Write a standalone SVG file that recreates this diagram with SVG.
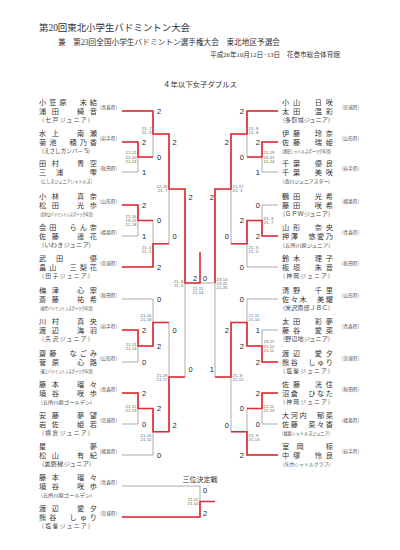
<svg xmlns="http://www.w3.org/2000/svg" width="400" height="550" viewBox="0 0 400 550">
<style>
text{dominant-baseline:central}
.hd{font-family:"Liberation Serif","Noto Sans CJK JP",serif;fill:#333}
.nm{font-family:"Noto Sans CJK JP",sans-serif;font-size:7.2px;fill:#333}
.tm{font-family:"Noto Sans CJK JP",sans-serif;font-size:5.8px;fill:#444}
.tl{font-family:"Noto Sans CJK JP",sans-serif;font-size:4.8px;fill:#444}
.pf{font-family:"Noto Sans CJK JP",sans-serif;font-size:5px;fill:#555}
.lb{font-family:"Liberation Sans",Arial,sans-serif;font-size:7.5px;fill:#222}
.sc{font-family:"Liberation Sans",Arial,sans-serif;font-size:4.3px;fill:#666;white-space:pre}
.g{stroke:#ababab;stroke-width:1;fill:none}
.r{stroke:#e4282d;stroke-width:1.6;fill:none}
</style>
<rect width="400" height="550" fill="#fff"/>
<g id="header">
<text class="hd" x="39" y="28" font-size="9.5" textLength="151" lengthAdjust="spacingAndGlyphs">第20回東北小学生バドミントン大会</text>
<text class="hd" x="58" y="42.7" font-size="7.7" textLength="222" lengthAdjust="spacingAndGlyphs">兼　第23回全国小学生バドミントン選手権大会　東北地区予選会</text>
<text class="hd" x="210" y="54.3" font-size="6.3" textLength="130" lengthAdjust="spacingAndGlyphs">平成26年10月12日−13日　花巻市総合体育館</text>
<text class="hd" x="163" y="84.3" font-size="7.4" textLength="74" lengthAdjust="spacingAndGlyphs">４年以下女子ダブルス</text>
</g>
<g id="connectors">
<path class="g" d="M122,111H153M122,142H138M122,172H138M122,205H138M122,236H138M122,267H153M122,299H153M122,330H138M122,362H138M122,393H138M122,424H138M122,455H153M122,486H200M122,517H200M138,142V172M138,157H153M138,205V236M138,220.5H153M138,330V362M138,346H153M138,393V424M138,408.5H153M153,111V157M153,134H169M153,220.5V267M153,243.75H169M153,299V346M153,322.5H169M153,408.5V455M153,431.75H169M169,134V243.75M169,189H185M169,322.5V431.75M169,377H185M185,189V377M185,283H215M200,486V517"/>
<path class="g" d="M278,111H247M278,142H262M278,172H262M278,205H262M278,236H262M278,267H247M278,299H247M278,330H262M278,362H262M278,393H262M278,424H262M278,455H247M262,142V172M262,157H247M262,205V236M262,220.5H247M262,330V362M262,346H247M262,393V424M262,408.5H247M247,111V157M247,134H231M247,220.5V267M247,243.75H231M247,299V346M247,322.5H231M247,408.5V455M247,431.75H231M231,134V243.75M231,189H215M231,322.5V431.75M231,377H215M215,189V377"/>
<path class="r" d="M122,111H153V134H169V189H185V283H200V252"/>
<path class="r" d="M122,142H138V157H153"/>
<path class="r" d="M122,205H138V220.5H153"/>
<path class="r" d="M122,267H153V243.75H169"/>
<path class="r" d="M122,330H138V346H153V322.5H169"/>
<path class="r" d="M122,393H138V408.5H153V431.75H169V377H185"/>
<path class="r" d="M122,517H200V501.5H215"/>
<path class="r" d="M278,111H247V134H231V189H215V283"/>
<path class="r" d="M278,142H262V157H247"/>
<path class="r" d="M278,236H262V220.5H247V243.75H231"/>
<path class="r" d="M278,362H262V346H247V322.5H231V377H215"/>
<path class="r" d="M278,393H262V408.5H247"/>
<path class="r" d="M278,455H247V431.75H231"/>
</g>
<g id="labels" class="lb">
<text x="142" y="142">2</text><text x="142" y="172">1</text><text x="142" y="205">2</text><text x="142" y="236">1</text><text x="142" y="330">2</text><text x="142" y="362">0</text><text x="142" y="393">2</text><text x="142" y="424">0</text>
<text x="157" y="111">2</text><text x="157" y="157">0</text><text x="157" y="220.5">0</text><text x="157" y="267">2</text><text x="157" y="299">0</text><text x="157" y="346">2</text><text x="157" y="408.5">2</text><text x="157" y="455">0</text>
<text x="172.5" y="142">2</text><text x="172.5" y="236">0</text><text x="172.5" y="330">0</text><text x="172.5" y="425">2</text>
<text x="188.5" y="197">2</text><text x="188.5" y="369">0</text>
<text x="193" y="278">2</text><text x="203" y="278">0</text>
<text x="203" y="490">0</text><text x="203" y="513">2</text>
<g text-anchor="end">
<text x="260" y="142">2</text><text x="260" y="172">1</text><text x="260" y="205">0</text><text x="260" y="236">2</text><text x="260" y="330">1</text><text x="260" y="362">2</text><text x="260" y="393">2</text><text x="260" y="424">0</text>
<text x="244" y="111">2</text><text x="244" y="157">0</text><text x="244" y="220.5">2</text><text x="244" y="267">0</text><text x="244" y="299">0</text><text x="244" y="346">2</text><text x="244" y="408.5">0</text><text x="244" y="455">2</text>
<text x="229" y="142">2</text><text x="229" y="236">0</text><text x="229" y="330">2</text><text x="229" y="425">0</text>
<text x="214" y="197">2</text><text x="214" y="369">1</text>
</g>
</g>
<g id="scores" class="sc">
<g text-anchor="end">
<text x="136.5" y="152.7">17-21</text><text x="136.5" y="157">22-20</text><text x="136.5" y="161.3">21-13</text>
<text x="151.5" y="128">21- 7</text><text x="151.5" y="132.3">21- 9</text>
<text x="136.5" y="216.2">21-16</text><text x="136.5" y="220.5">19-21</text><text x="136.5" y="224.8">21-18</text>
<text x="151.5" y="247">21- 4</text><text x="151.5" y="251.3">21- 5</text>
<text x="167.5" y="186.5">22-20</text><text x="167.5" y="190.8">21- 7</text>
<text x="183.5" y="281">21- 8</text><text x="183.5" y="285.3">21- 6</text>
<text x="136.5" y="344">21-11</text><text x="136.5" y="348.3">21-13</text>
<text x="151.5" y="315">21-16</text><text x="151.5" y="319.3">21-19</text>
<text x="136.5" y="406.5">21-15</text><text x="136.5" y="410.8">21-13</text>
<text x="151.5" y="435">21-16</text><text x="151.5" y="439.3">21-12</text>
<text x="167.5" y="375.5">21-19</text><text x="167.5" y="379.8">21-17</text>
<text x="198.5" y="499.5">21-12</text><text x="198.5" y="503.8">21-14</text>
</g>
<text x="198" y="288" text-anchor="middle">21-15</text><text x="198" y="292.3" text-anchor="middle">21-13</text>
<text x="263.5" y="152.7">21-19</text><text x="263.5" y="157">16-21</text><text x="263.5" y="161.3">21-14</text>
<text x="248.5" y="128">21- 8</text><text x="248.5" y="132.3">21- 8</text>
<text x="263.5" y="218.3">21- 3</text><text x="263.5" y="222.6">21- 7</text>
<text x="248.5" y="247">21- 6</text><text x="248.5" y="251.3">21- 5</text>
<text x="232.5" y="186.5">21-17</text><text x="232.5" y="190.8">21- 3</text>
<text x="216.5" y="279">23-14</text><text x="216.5" y="283.3">23-25</text><text x="216.5" y="287.6">21-20</text>
<text x="263.5" y="341.7">19-21</text><text x="263.5" y="346">21-12</text><text x="263.5" y="350.3">21-11</text>
<text x="248.5" y="315">21-11</text><text x="248.5" y="319.3">21-10</text>
<text x="263.5" y="406.3">21-11</text><text x="263.5" y="410.6">21-13</text>
<text x="248.5" y="435">21- 9</text><text x="248.5" y="439.3">21-13</text>
<text x="232.5" y="375.5">21- 8</text><text x="232.5" y="379.8">21-12</text>
</g>
<text class="hd" x="200" y="480" font-size="7" text-anchor="middle">三位決定戦</text>
<g id="L1"><text class="nm" x="39" y="102" textLength="58" lengthAdjust="spacing">小笠原　末結</text><text class="nm" x="39" y="111" textLength="58" lengthAdjust="spacing">浦田　綺音</text><text class="tm" x="42" y="119.8" textLength="48" lengthAdjust="spacing">(七戸ジュニア)</text><text class="pf" x="100" y="106.5" textLength="17" lengthAdjust="spacingAndGlyphs">(青森県)</text></g>
<g id="L2"><text class="nm" x="39" y="133" textLength="58" lengthAdjust="spacing">水上　南瀬</text><text class="nm" x="39" y="142" textLength="58" lengthAdjust="spacing">菊池　穂乃香</text><text class="tm" x="42" y="150.8" textLength="48" lengthAdjust="spacingAndGlyphs">(えさしガンバ－'S)</text><text class="pf" x="100" y="137.5" textLength="17" lengthAdjust="spacingAndGlyphs">(岩手県)</text></g>
<g id="L3"><text class="nm" x="39" y="163" textLength="58" lengthAdjust="spacing">田村　青空</text><text class="nm" x="39" y="172" textLength="58" lengthAdjust="spacing">三浦　雫</text><text class="tl" x="41" y="180.8" textLength="51" lengthAdjust="spacingAndGlyphs">(にしきジュニアシャトルズ)</text><text class="pf" x="100" y="167.5" textLength="17" lengthAdjust="spacingAndGlyphs">(秋田県)</text></g>
<g id="L4"><text class="nm" x="39" y="196" textLength="58" lengthAdjust="spacing">小林　真奈</text><text class="nm" x="39" y="205" textLength="58" lengthAdjust="spacing">松田　光歩</text><text class="tl" x="40" y="213.8" textLength="53" lengthAdjust="spacingAndGlyphs">(北村山バドミントンスポーツ少年団)</text><text class="pf" x="100" y="200.5" textLength="17" lengthAdjust="spacingAndGlyphs">(山形県)</text></g>
<g id="L5"><text class="nm" x="39" y="227" textLength="58" lengthAdjust="spacing">会田　らん奈</text><text class="nm" x="39" y="236" textLength="58" lengthAdjust="spacing">佐藤　遥花</text><text class="tm" x="42" y="244.8" textLength="49" lengthAdjust="spacingAndGlyphs">(いわきジュニア)</text><text class="pf" x="100" y="231.5" textLength="17" lengthAdjust="spacingAndGlyphs">(福島県)</text></g>
<g id="L6"><text class="nm" x="39" y="258" textLength="58" lengthAdjust="spacing">武田　優</text><text class="nm" x="39" y="267" textLength="58" lengthAdjust="spacing">畠山　三梨花</text><text class="tm" x="42" y="275.8" textLength="48" lengthAdjust="spacing">(田子ジュニア)</text><text class="pf" x="100" y="262.5" textLength="17" lengthAdjust="spacingAndGlyphs">(宮城県)</text></g>
<g id="L7"><text class="nm" x="39" y="290" textLength="58" lengthAdjust="spacing">梅津　心寧</text><text class="nm" x="39" y="299" textLength="58" lengthAdjust="spacing">斎藤　祐希</text><text class="tl" x="40" y="307.8" textLength="53" lengthAdjust="spacingAndGlyphs">(能代バドミントンスポーツ少年団)</text><text class="pf" x="100" y="294.5" textLength="17" lengthAdjust="spacingAndGlyphs">(秋田県)</text></g>
<g id="L8"><text class="nm" x="39" y="321" textLength="58" lengthAdjust="spacing">川村　真央</text><text class="nm" x="39" y="330" textLength="58" lengthAdjust="spacing">渡辺　海羽</text><text class="tm" x="42" y="338.8" textLength="48" lengthAdjust="spacing">(矢沢ジュニア)</text><text class="pf" x="100" y="325.5" textLength="17" lengthAdjust="spacingAndGlyphs">(岩手県)</text></g>
<g id="L9"><text class="nm" x="39" y="353" textLength="58" lengthAdjust="spacing">齋藤　なごみ</text><text class="nm" x="39" y="362" textLength="58" lengthAdjust="spacing">菅原　心路</text><text class="tl" x="40" y="370.8" textLength="53" lengthAdjust="spacingAndGlyphs">(最上バドミントンスポーツ少年団)</text><text class="pf" x="100" y="357.5" textLength="17" lengthAdjust="spacingAndGlyphs">(山形県)</text></g>
<g id="L10"><text class="nm" x="39" y="384" textLength="58" lengthAdjust="spacing">藤本　瑠々</text><text class="nm" x="39" y="393" textLength="58" lengthAdjust="spacing">境谷　咲歩</text><text class="tl" x="41" y="401.8" textLength="51" lengthAdjust="spacingAndGlyphs">(五所川原ゴールデン)</text><text class="pf" x="100" y="388.5" textLength="17" lengthAdjust="spacingAndGlyphs">(青森県)</text></g>
<g id="L11"><text class="nm" x="39" y="415" textLength="58" lengthAdjust="spacing">安藤　夢望</text><text class="nm" x="39" y="424" textLength="58" lengthAdjust="spacing">岩佐　姫若</text><text class="tm" x="42" y="432.8" textLength="48" lengthAdjust="spacing">(横倉ジュニア)</text><text class="pf" x="100" y="419.5" textLength="17" lengthAdjust="spacingAndGlyphs">(宮城県)</text></g>
<g id="L12"><text class="nm" x="39" y="446" textLength="58" lengthAdjust="spacing">星　夢</text><text class="nm" x="39" y="455" textLength="58" lengthAdjust="spacing">松山　有紀</text><text class="tm" x="42" y="463.8" textLength="49" lengthAdjust="spacingAndGlyphs">(裏磐梯ジュニア)</text><text class="pf" x="100" y="450.5" textLength="17" lengthAdjust="spacingAndGlyphs">(福島県)</text></g>
<g id="L13"><text class="nm" x="39" y="477" textLength="58" lengthAdjust="spacing">藤本　瑠々</text><text class="nm" x="39" y="486" textLength="58" lengthAdjust="spacing">境谷　咲歩</text><text class="tl" x="41" y="494.8" textLength="51" lengthAdjust="spacingAndGlyphs">(五所川原ゴールデン)</text><text class="pf" x="100" y="481.5" textLength="17" lengthAdjust="spacingAndGlyphs">(青森県)</text></g>
<g id="L14"><text class="nm" x="39" y="508" textLength="58" lengthAdjust="spacing">渡辺　愛夕</text><text class="nm" x="39" y="517" textLength="58" lengthAdjust="spacing">熊谷　しゅり</text><text class="tm" x="42" y="525.8" textLength="48" lengthAdjust="spacing">(塩釜ジュニア)</text><text class="pf" x="100" y="512.5" textLength="17" lengthAdjust="spacingAndGlyphs">(宮城県)</text></g>
<g id="R1"><text class="nm" x="282" y="102" textLength="51" lengthAdjust="spacing">小山　日咲</text><text class="nm" x="282" y="111" textLength="51" lengthAdjust="spacing">太田　温彩</text><text class="tm" x="283" y="119.6" textLength="47" lengthAdjust="spacingAndGlyphs">(多賀城ジュニア)</text><text class="pf" x="342" y="106.4" textLength="17" lengthAdjust="spacingAndGlyphs">(宮城県)</text></g>
<g id="R2"><text class="nm" x="282" y="133" textLength="51" lengthAdjust="spacing">伊藤　玲奈</text><text class="nm" x="282" y="142" textLength="51" lengthAdjust="spacing">佐藤　瑞姫</text><text class="tl" x="282" y="150.6" textLength="49" lengthAdjust="spacingAndGlyphs">(酒田シャトルスポーツ少年団)</text><text class="pf" x="342" y="137.4" textLength="17" lengthAdjust="spacingAndGlyphs">(山形県)</text></g>
<g id="R3"><text class="nm" x="282" y="163" textLength="51" lengthAdjust="spacing">千葉　優良</text><text class="nm" x="282" y="172" textLength="51" lengthAdjust="spacing">千葉　美咲</text><text class="tl" x="283" y="180.6" textLength="47" lengthAdjust="spacingAndGlyphs">(衣川ジュニアスター)</text><text class="pf" x="342" y="167.4" textLength="17" lengthAdjust="spacingAndGlyphs">(岩手県)</text></g>
<g id="R4"><text class="nm" x="282" y="196" textLength="51" lengthAdjust="spacing">鶴田　光希</text><text class="nm" x="282" y="205" textLength="51" lengthAdjust="spacing">藤田　咲希</text><text class="tm" x="283" y="213.6" textLength="47" lengthAdjust="spacingAndGlyphs">(ＧＰＷジュニア)</text><text class="pf" x="342" y="200.4" textLength="17" lengthAdjust="spacingAndGlyphs">(福島県)</text></g>
<g id="R5"><text class="nm" x="282" y="227" textLength="51" lengthAdjust="spacing">山形　奈央</text><text class="nm" x="282" y="236" textLength="51" lengthAdjust="spacing">押澤　悠愛乃</text><text class="tl" x="283" y="244.6" textLength="47" lengthAdjust="spacingAndGlyphs">(五所川原ジュニア)</text><text class="pf" x="342" y="231.4" textLength="17" lengthAdjust="spacingAndGlyphs">(青森県)</text></g>
<g id="R6"><text class="nm" x="282" y="258" textLength="51" lengthAdjust="spacing">鈴木　理子</text><text class="nm" x="282" y="267" textLength="51" lengthAdjust="spacing">板垣　朱音</text><text class="tm" x="283" y="275.6" textLength="47" lengthAdjust="spacing">(神岡ジュニア)</text><text class="pf" x="342" y="262.4" textLength="17" lengthAdjust="spacingAndGlyphs">(秋田県)</text></g>
<g id="R7"><text class="nm" x="282" y="290" textLength="51" lengthAdjust="spacing">清野　千里</text><text class="nm" x="282" y="299" textLength="51" lengthAdjust="spacing">佐々木　美耀</text><text class="tm" x="283" y="307.6" textLength="47" lengthAdjust="spacingAndGlyphs">(米沢南部ＪＢＣ)</text><text class="pf" x="342" y="294.4" textLength="17" lengthAdjust="spacingAndGlyphs">(山形県)</text></g>
<g id="R8"><text class="nm" x="282" y="321" textLength="51" lengthAdjust="spacing">太田　彩夢</text><text class="nm" x="282" y="330" textLength="51" lengthAdjust="spacing">藤谷　愛菜</text><text class="tm" x="283" y="338.6" textLength="47" lengthAdjust="spacingAndGlyphs">(野辺地ジュニア)</text><text class="pf" x="342" y="325.4" textLength="17" lengthAdjust="spacingAndGlyphs">(青森県)</text></g>
<g id="R9"><text class="nm" x="282" y="353" textLength="51" lengthAdjust="spacing">渡辺　愛夕</text><text class="nm" x="282" y="362" textLength="51" lengthAdjust="spacing">熊谷　しゅり</text><text class="tm" x="283" y="370.6" textLength="47" lengthAdjust="spacing">(塩釜ジュニア)</text><text class="pf" x="342" y="357.4" textLength="17" lengthAdjust="spacingAndGlyphs">(宮城県)</text></g>
<g id="R10"><text class="nm" x="282" y="384" textLength="51" lengthAdjust="spacing">佐藤　洸住</text><text class="nm" x="282" y="393" textLength="51" lengthAdjust="spacing">沼倉　ひなた</text><text class="tm" x="283" y="401.6" textLength="47" lengthAdjust="spacing">(神岡ジュニア)</text><text class="pf" x="342" y="388.4" textLength="17" lengthAdjust="spacingAndGlyphs">(秋田県)</text></g>
<g id="R11"><text class="nm" x="282" y="415" textLength="51" lengthAdjust="spacing">大河内　郁菜</text><text class="nm" x="282" y="424" textLength="51" lengthAdjust="spacing">佐藤　菜々香</text><text class="tl" x="282" y="432.6" textLength="48" lengthAdjust="spacingAndGlyphs">(福島シャトルズジュニア)</text><text class="pf" x="342" y="419.4" textLength="17" lengthAdjust="spacingAndGlyphs">(福島県)</text></g>
<g id="R12"><text class="nm" x="282" y="446" textLength="51" lengthAdjust="spacing">室岡　椋</text><text class="nm" x="282" y="455" textLength="51" lengthAdjust="spacing">中塚　怜良</text><text class="tl" x="283" y="463.6" textLength="47" lengthAdjust="spacingAndGlyphs">(矢巾シャトルクラブ)</text><text class="pf" x="342" y="450.4" textLength="17" lengthAdjust="spacingAndGlyphs">(岩手県)</text></g>
</svg>
